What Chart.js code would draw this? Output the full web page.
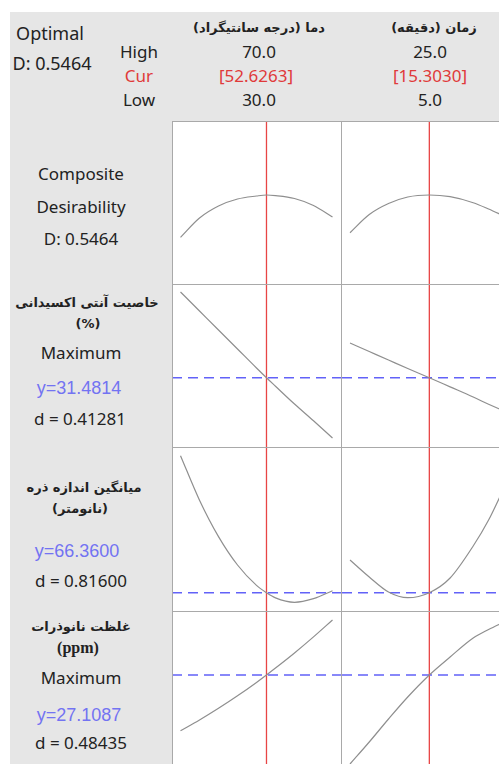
<!DOCTYPE html>
<html>
<head>
<meta charset="utf-8">
<script src="https://cdn.jsdelivr.net/npm/chart.js@4"></script>
<style>
  body { margin: 0; width: 499px; height: 764px; overflow: hidden; background: #fff; position: relative; font-family: "Noto Sans", "Open Sans", sans-serif; color: #222; }
  .bg { position: absolute; background: #e6e6e6; }
  .t { position: absolute; transform: translate(-50%, -50%); white-space: nowrap; font-size: 17px; }
  .fa { font-family: "DejaVu Sans", sans-serif; font-weight: bold; font-size: 13px; direction: rtl; }
  .red { color: #e03a3a; }
  .blue { color: #7373f2; font-family: "Liberation Sans", Arial, sans-serif; font-size: 18px; }
  canvas { position: absolute; }
  .ln { position: absolute; background: #a9a9a9; z-index: 2; }
</style>
</head>
<body>
<div class="bg" style="left:10px;top:12px;width:489px;height:109px"></div>
<div class="bg" style="left:10px;top:12px;width:162px;height:752px"></div>

<div class="t" style="left:50px;top:33px;font-size:18px">Optimal</div>
<div class="t" style="left:52px;top:63px;font-size:18px">D: 0.5464</div>
<div class="t" style="left:139px;top:51px">High</div>
<div class="t red" style="left:139px;top:75px">Cur</div>
<div class="t" style="left:139px;top:99px">Low</div>

<div class="t fa" style="left:259px;top:27px">دما (درجه سانتیگراد)</div>
<div class="t fa" style="left:434px;top:27px">زمان (دقیقه)</div>
<div class="t" style="left:259px;top:51px">70.0</div>
<div class="t red" style="left:256px;top:75px">[52.6263]</div>
<div class="t" style="left:259px;top:99px">30.0</div>
<div class="t" style="left:430px;top:51px">25.0</div>
<div class="t red" style="left:430px;top:75px">[15.3030]</div>
<div class="t" style="left:430px;top:99px">5.0</div>

<div class="t" style="left:81px;top:173px">Composite</div>
<div class="t" style="left:81px;top:206px">Desirability</div>
<div class="t" style="left:81px;top:238px">D: 0.5464</div>

<div class="t fa" style="left:87px;top:302px">خاصیت آنتی اکسیدانی</div>
<div class="t fa" style="left:88px;top:323px">(%)</div>
<div class="t" style="left:81px;top:352px">Maximum</div>
<div class="t blue" style="left:79px;top:388px">y=31.4814</div>
<div class="t" style="left:80px;top:418px">d = 0.41281</div>

<div class="t fa" style="left:84px;top:487px">میانگین اندازه ذره</div>
<div class="t fa" style="left:80px;top:508px">(نانومتر)</div>
<div class="t blue" style="left:77px;top:551px">y=66.3600</div>
<div class="t" style="left:81px;top:580px">d = 0.81600</div>

<div class="t fa" style="left:81px;top:626px">غلظت نانوذرات</div>
<div class="t" style="left:78px;top:648px;font-family:'Liberation Serif',serif;font-weight:bold;font-size:16px">(ppm)</div>
<div class="t" style="left:81px;top:677px">Maximum</div>
<div class="t blue" style="left:79px;top:715px">y=27.1087</div>
<div class="t" style="left:81px;top:742px">d = 0.48435</div>

<canvas id="c00" width="170" height="163" style="left:172px;top:121px"></canvas>
<canvas id="c01" width="170" height="163" style="left:342px;top:121px"></canvas>
<canvas id="c10" width="170" height="163" style="left:172px;top:284px"></canvas>
<canvas id="c11" width="170" height="163" style="left:342px;top:284px"></canvas>
<canvas id="c20" width="170" height="164" style="left:172px;top:447px"></canvas>
<canvas id="c21" width="170" height="164" style="left:342px;top:447px"></canvas>
<canvas id="c30" width="170" height="163" style="left:172px;top:611px"></canvas>
<canvas id="c31" width="170" height="163" style="left:342px;top:611px"></canvas>

<div class="ln" style="left:172px;top:121px;width:1px;height:660px"></div>
<div class="ln" style="left:341px;top:121px;width:1px;height:660px"></div>
<div class="ln" style="left:172px;top:121px;width:340px;height:1px"></div>
<div class="ln" style="left:172px;top:284px;width:340px;height:1px"></div>
<div class="ln" style="left:172px;top:447px;width:340px;height:1px"></div>
<div class="ln" style="left:172px;top:611px;width:340px;height:1px"></div>

<script>
// factor settings
const tempCur = 52.6263;
const timeCur = 15.3030;
const tempX = [30, 35, 40, 45, 50, 52.6263, 55, 60, 65, 70];
const timeX = [5, 7.5, 10, 12.5, 15.303, 18, 21, 23, 25];

// composite desirability
const desirTemp = [0.2589, 0.3901, 0.4716, 0.5192, 0.5396, 0.5464, 0.5423, 0.5226, 0.475, 0.3969];
const desirTime = [0.2901, 0.4139, 0.4886, 0.5328, 0.5464, 0.5349, 0.4941, 0.4513, 0.4037];

// antioxidant property (%)
const antioxTemp = [47.8, 44.18, 40.56, 36.95, 33.33, 31.48, 29.86, 26.47, 23.28, 20.0];
const antioxTime = [38.09, 36.47, 34.85, 33.23, 31.48, 29.74, 27.80, 26.44, 25.14];
const antioxOpt = 31.4814;

// mean particle size (nm)
const sizeTemp = [110.2, 95.96, 84.31, 75.22, 68.70, 66.36, 64.70, 63.29, 64.44, 67.0];
const sizeTime = [76.82, 71.38, 66.58, 64.76, 66.36, 71.06, 81.30, 89.62, 99.86];
const sizeOpt = 66.36;

// nanoparticle concentration (ppm)
const concTemp = [20.42, 21.71, 23.11, 24.61, 26.22, 27.11, 27.94, 29.75, 31.68, 33.71];
const concTime = [16.43, 19.07, 21.83, 24.47, 27.11, 29.27, 31.55, 32.57, 33.47];
const concOpt = 27.1087;

// axis windows (include Minitab's inner padding)
const tempRange = [27.76, 72.5];
const timeRange = [3.96, 26.04];
const rowRanges = [[-0.0586, 1.0495], [18.29, 49.32], [60.5, 112.98], [15.23, 34.79]];

function makePanel(id, xs, ys, xRange, yRange, cur, opt) {
  const canvas = document.getElementById(id);
  const ctx = canvas.getContext("2d");

  const datasets = [
    {
      data: xs.map((x, i) => ({ x: x, y: ys[i] })),
      borderColor: "#8f8f8f",
      borderWidth: 1.2,
      pointRadius: 0,
      cubicInterpolationMode: "monotone"
    },
    {
      data: [{ x: cur, y: yRange[0] }, { x: cur, y: yRange[1] }],
      borderColor: "#e84545",
      borderWidth: 1.3,
      pointRadius: 0
    }
  ];
  if (opt !== null) {
    datasets.push({
      data: [{ x: xRange[0], y: opt }, { x: xRange[1], y: opt }],
      borderColor: "#6262f8",
      borderWidth: 1.4,
      borderDash: [10, 6],
      pointRadius: 0
    });
  }

  new Chart(ctx, {
    type: "line",
    data: { datasets: datasets },
    options: {
      responsive: false,
      animation: false,
      layout: { padding: 0 },
      plugins: { legend: { display: false }, tooltip: { enabled: false } },
      scales: {
        x: { type: "linear", display: false, min: xRange[0], max: xRange[1] },
        y: { type: "linear", display: false, min: yRange[0], max: yRange[1] }
      }
    }
  });
}

makePanel("c00", tempX, desirTemp, tempRange, rowRanges[0], tempCur, null);
makePanel("c01", timeX, desirTime, timeRange, rowRanges[0], timeCur, null);
makePanel("c10", tempX, antioxTemp, tempRange, rowRanges[1], tempCur, antioxOpt);
makePanel("c11", timeX, antioxTime, timeRange, rowRanges[1], timeCur, antioxOpt);
makePanel("c20", tempX, sizeTemp, tempRange, rowRanges[2], tempCur, sizeOpt);
makePanel("c21", timeX, sizeTime, timeRange, rowRanges[2], timeCur, sizeOpt);
makePanel("c30", tempX, concTemp, tempRange, rowRanges[3], tempCur, concOpt);
makePanel("c31", timeX, concTime, timeRange, rowRanges[3], timeCur, concOpt);
</script>
</body>
</html>
